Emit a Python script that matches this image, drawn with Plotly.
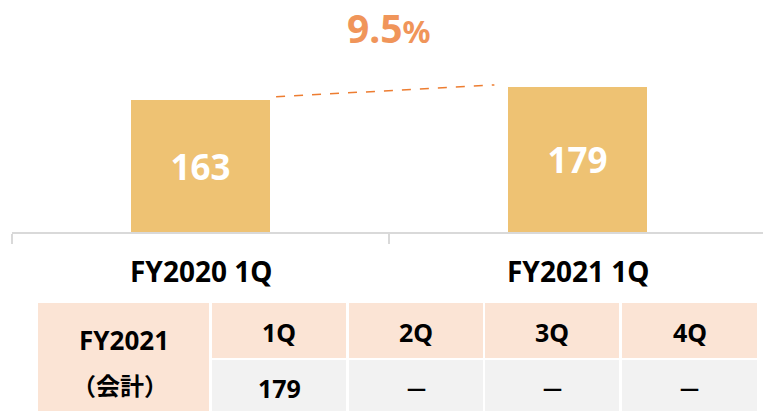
import plotly.graph_objects as go

# ---- data ----
categories = ["FY2020 1Q", "FY2021 1Q"]
values = [163, 179]
growth_label = "9.5"
table_row_label = ["FY2021", "（会計）"]
table_header = ["1Q", "2Q", "3Q", "4Q"]
table_values = ["179", "―", "―", "―"]

W, H = 763, 411
BAR = "#EEC273"
PEACH = "#FBE4D5"
GRAY = "#F2F2F2"
ORANGE = "#F0955A"
LINE_ORANGE = "#ED7D31"
AXIS = "#D9D9D9"
FONT = "Noto Sans, Noto Sans CJK JP, sans-serif"

def px_x(p):
    return p / W

def px_y(p):
    return 1 - p / H

xs = list(range(len(categories)))
bar_w = 0.371

fig = go.Figure()
fig.add_trace(go.Bar(
    x=xs, y=values, width=bar_w, marker=dict(color=BAR, line=dict(width=0)),
    text=[str(v) for v in values], texttemplate="<b>%{text}</b>",
    textposition="inside", insidetextanchor="middle",
    textangle=0, textfont=dict(color="white", size=35, family=FONT),
    hoverinfo="skip", showlegend=False,
))

# dashed connector between bar tops
fig.add_trace(go.Scatter(
    x=[xs[0] + bar_w / 2 + 0.015, xs[1] - bar_w / 2 - 0.035],
    y=[values[0] + 4, values[1] + 2.5],
    mode="lines", line=dict(color=LINE_ORANGE, width=1.5, dash="dash"),
    hoverinfo="skip", showlegend=False,
))

annotations = []
annotations.append(dict(
    x=0.5, y=252, xref="x", yref="y",
    text=f"<b>{growth_label}<span style='font-size:31px'>%</span></b>",
    showarrow=False, font=dict(color=ORANGE, size=39, family=FONT),
    xanchor="center", yanchor="middle",
))
for i, c in enumerate(categories):
    annotations.append(dict(
        x=xs[i], y=px_y(271), xref="x", yref="paper", text=f"<b>{c}</b>",
        showarrow=False, font=dict(color="#000000", size=28, family=FONT),
        xanchor="center", yanchor="middle",
    ))

# ---- table ----
shapes = []
col_edges = [(38, 209), (212, 346), (349, 483), (485, 619), (622, 757)]
row1 = (303, 358)
row2 = (360, 411)

def rect(x0, x1, y0, y1, color):
    shapes.append(dict(type="rect", xref="paper", yref="paper",
                       x0=px_x(x0), x1=px_x(x1), y0=px_y(y1), y1=px_y(y0),
                       fillcolor=color, line=dict(width=0), layer="below"))

rect(col_edges[0][0], col_edges[0][1], row1[0], row2[1], PEACH)
annotations.append(dict(x=px_x(sum(col_edges[0]) / 2), y=px_y(340), xref="paper", yref="paper",
                        text=f"<b>{table_row_label[0]}</b>", showarrow=False,
                        font=dict(size=26, color="#000000", family=FONT), xanchor="center", yanchor="middle"))
annotations.append(dict(x=px_x(sum(col_edges[0]) / 2 - 3), y=px_y(384), xref="paper", yref="paper",
                        text=f"<b>{table_row_label[1]}</b>", showarrow=False,
                        font=dict(size=24, color="#000000", family="Noto Sans CJK JP"), xanchor="center", yanchor="middle"))
for j, (hd, v) in enumerate(zip(table_header, table_values)):
    x0, x1 = col_edges[j + 1]
    rect(x0, x1, row1[0], row1[1], PEACH)
    rect(x0, x1, row2[0], row2[1], GRAY)
    annotations.append(dict(x=px_x((x0 + x1) / 2), y=px_y(332), xref="paper", yref="paper",
                            text=f"<b>{hd}</b>", showarrow=False,
                            font=dict(size=25, color="#000000", family=FONT), xanchor="center", yanchor="middle"))
    is_dash = v == "―"
    annotations.append(dict(x=px_x((x0 + x1) / 2), y=px_y(388), xref="paper", yref="paper",
                            text=f"<b>{v}</b>", showarrow=False,
                            font=dict(size=19 if is_dash else 25, color="#000000", family=FONT),
                            xanchor="center", yanchor="middle"))

fig.update_layout(
    width=W, height=H, margin=dict(l=0, r=0, t=0, b=0),
    paper_bgcolor="white", plot_bgcolor="white",
    xaxis=dict(range=[-0.5, 1.492], domain=[px_x(12), 1], showline=True, linecolor=AXIS, linewidth=2,
               tickvals=[-0.5, 0.5, 1.5], ticks="outside", ticklen=10, tickcolor=AXIS, tickwidth=2,
               showticklabels=False, showgrid=False, zeroline=False, fixedrange=True),
    yaxis=dict(range=[0, 286.4], domain=[px_y(232), 1], visible=False, fixedrange=True),
    annotations=annotations, shapes=shapes, bargap=0,
)

fig.write_html("out.html", config={"displayModeBar": False},
               post_script="document.body.style.margin='0';document.body.style.padding='0';")
